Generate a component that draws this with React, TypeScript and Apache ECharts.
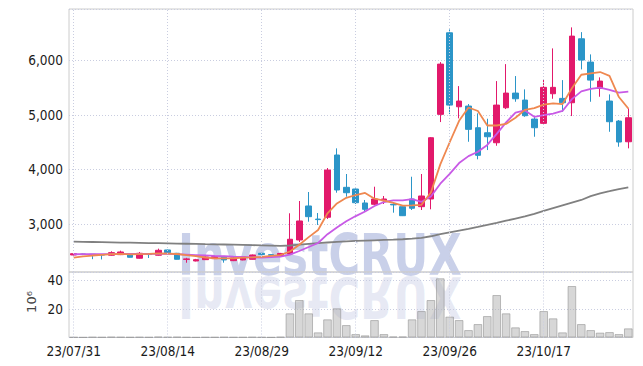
import React, { useEffect, useRef } from "react";
import * as echarts from "echarts";

const dates = [
  "23/07/31", "23/08/01", "23/08/02", "23/08/03", "23/08/04", "23/08/07", "23/08/08", "23/08/09", "23/08/10", "23/08/11",
  "23/08/14", "23/08/15", "23/08/16", "23/08/18", "23/08/21", "23/08/22", "23/08/23", "23/08/24", "23/08/25", "23/08/28",
  "23/08/29", "23/08/30", "23/08/31", "23/09/01", "23/09/04", "23/09/05", "23/09/06", "23/09/07", "23/09/08", "23/09/11",
  "23/09/12", "23/09/13", "23/09/14", "23/09/15", "23/09/18", "23/09/19", "23/09/20", "23/09/21", "23/09/22", "23/09/25",
  "23/09/26", "23/09/27", "23/10/02", "23/10/03", "23/10/05", "23/10/06", "23/10/09", "23/10/10", "23/10/12", "23/10/16",
  "23/10/17", "23/10/18", "23/10/19", "23/10/20", "23/10/23", "23/10/24", "23/10/25", "23/10/26", "23/10/27", "23/10/30",
];

const opens = [
  2432, 2448, 2445, 2440, 2427, 2438, 2432, 2372, 2445, 2427,
  2524, 2463, 2350, 2322, 2346, 2365, 2390, 2328, 2341, 2353,
  2463, 2438, 2420, 2451, 2707, 3330, 3090, 3123, 4264, 3672,
  3641, 3385, 3361, 3427, 3360, 3317, 3458, 3317, 3458, 5009,
  6504, 5148, 5161, 4764, 4672, 4489, 5130, 5399, 5271, 4923,
  4844, 5387, 5302, 5222, 6394, 5967, 5485, 5253, 4886, 4507,
];
const closes = [
  2456, 2445, 2427, 2430, 2475, 2487, 2390, 2463, 2440, 2518,
  2475, 2353, 2360, 2346, 2396, 2401, 2341, 2377, 2396, 2432,
  2440, 2427, 2460, 2720, 3055, 3134, 3080, 3989, 3623, 3573,
  3390, 3269, 3458, 3458, 3350, 3152, 3288, 3513, 4581, 5930,
  5179, 5253, 4734, 4258, 4599, 5179, 5399, 5295, 4984, 4764,
  5504, 5504, 5222, 6443, 6004, 5637, 5619, 4874, 4502, 4947,
];
const lows = [
  2425, 2430, 2355, 2350, 2420, 2430, 2385, 2365, 2377, 2420,
  2470, 2350, 2290, 2315, 2340, 2360, 2291, 2320, 2335, 2350,
  2430, 2420, 2415, 2432, 2670, 3042, 2982, 3092, 3573, 3500,
  3366, 3225, 3348, 3366, 3207, 3146, 3256, 3256, 3269, 4868,
  5015, 4936, 4507, 4185, 4355, 4434, 5106, 5240, 4965, 4599,
  4831, 5295, 5057, 4978, 5833, 5240, 5332, 4690, 4416, 4386,
];
const highs = [
  2462, 2455, 2450, 2445, 2500, 2511, 2440, 2487, 2455, 2548,
  2530, 2470, 2380, 2360, 2405, 2410, 2395, 2390, 2410, 2440,
  2470, 2445, 2470, 3196, 3421, 3586, 3201, 4026, 4386, 3916,
  3650, 3440, 3683, 3513, 3385, 3348, 3866, 3916, 4593, 5967,
  6566, 5527, 5198, 5027, 4929, 5619, 5930, 5711, 5467, 4965,
  5650, 6218, 5637, 6603, 6516, 6108, 5687, 5375, 4905, 5119,
];

const ma5 = [
  2385, 2405, 2422, 2435, 2447, 2453, 2442, 2449, 2451, 2460,
  2457, 2450, 2429, 2410, 2386, 2371, 2369, 2372, 2382, 2389,
  2397, 2414, 2431, 2496, 2620, 2759, 2890, 3196, 3376, 3480,
  3531, 3569, 3463, 3430, 3385, 3337, 3341, 3352, 3577, 4093,
  4498, 4891, 5135, 5071, 4805, 4805, 4834, 4946, 5091, 5124,
  5189, 5210, 5196, 5487, 5735, 5762, 5785, 5715, 5327, 5116,
];
const ma10 = [
  2445, 2447, 2448, 2447, 2449, 2451, 2450, 2452, 2454, 2453,
  2455, 2446, 2439, 2431, 2423, 2414, 2409, 2401, 2396, 2388,
  2384, 2392, 2402, 2439, 2505, 2578, 2652, 2813, 2936, 3050,
  3145, 3229, 3329, 3403, 3432, 3434, 3455, 3407, 3503, 3739,
  3918, 4116, 4244, 4324, 4449, 4651, 4863, 5041, 5081, 4964,
  4997, 5022, 5071, 5289, 5430, 5476, 5498, 5456, 5407, 5426,
];
const maLong = [
  2676, 2673, 2670, 2667, 2664, 2660, 2657, 2654, 2651, 2648,
  2645, 2641, 2638, 2635, 2631, 2628, 2624, 2620, 2616, 2612,
  2608, 2604, 2600, 2606, 2620, 2634, 2648, 2661, 2672, 2683,
  2689, 2695, 2701, 2707, 2713, 2720, 2730, 2745, 2775, 2815,
  2848, 2880, 2910, 2945, 2982, 3020, 3060, 3100, 3140, 3185,
  3240, 3290, 3340, 3390, 3440, 3510, 3562, 3600, 3640, 3672,
];

const volumes = [
  0.3, 0.2, 0.4, 0.3, 0.5, 0.4, 0.3, 0.4, 0.3, 0.6,
  0.4, 0.5, 0.3, 0.2, 0.3, 0.3, 0.4, 0.3, 0.3, 0.4,
  0.3, 0.2, 0.5, 16.9, 26.2, 16.9, 3.6, 12.7, 20.4, 8.7,
  2.4, 1.5, 12.2, 2.4, 0.7, 0.7, 12.7, 18.5, 26.2, 41.4,
  14.6, 12.2, 5.2, 9.4, 15.0, 29.7, 16.9, 7.1, 4.5, 2.4,
  18.5, 13.4, 3.6, 36.0, 9.4, 5.2, 3.4, 3.8, 2.4, 6.4,
];

const labelDates = ["23/07/31", "23/08/14", "23/08/29", "23/09/12", "23/09/26", "23/10/17"];

const FONT = '"DejaVu Sans Condensed", "DejaVu Sans", sans-serif';
const GRID_DOT = "#c9cde0";
const UP = "#e2196b";
const DOWN = "#2b95c8";

export default function App() {
  const ref = useRef<HTMLDivElement>(null);

  useEffect(() => {
    if (!ref.current) return;
    const chart = echarts.init(ref.current, undefined, { renderer: "svg" });

    const ohlc = dates.map((_, i) => [opens[i], closes[i], lows[i], highs[i]]);
    const vLines = {
      symbol: ["none", "none"],
      silent: true,
      animation: false,
      label: { show: false },
      lineStyle: { color: GRID_DOT, type: [1, 2], width: 1 },
      data: labelDates.map((d) => ({ xAxis: d })),
    };
    const axisLabelStyle = { color: "#1a1a1a", fontSize: 13.5, fontFamily: FONT, fontWeight: 500 };

    const option: any = {
      animation: false,
      backgroundColor: "#ffffff",
      grid: [
        { left: 69, right: 10, top: 9, height: 263, show: true, borderColor: "#cccccc", borderWidth: 1 },
        { left: 69, right: 10, top: 272, height: 65.5, show: true, borderColor: "#cccccc", borderWidth: 1 },
      ],
      xAxis: [
        {
          type: "category", gridIndex: 0, data: dates, boundaryGap: true,
          axisLine: { show: false }, axisTick: { show: false }, axisLabel: { show: false }, splitLine: { show: false },
        },
        {
          type: "category", gridIndex: 1, data: dates, boundaryGap: true,
          axisLine: { show: false }, axisTick: { show: false }, splitLine: { show: false },
          axisLabel: { ...axisLabelStyle, interval: 9, margin: 6 },
        },
      ],
      yAxis: [
        {
          type: "value", gridIndex: 0, min: 2120, max: 6940,
          axisLine: { show: false }, axisTick: { show: false },
          axisLabel: { ...axisLabelStyle, margin: 6, showMinLabel: false, showMaxLabel: false },
          splitLine: { show: true, lineStyle: { color: GRID_DOT, type: [1, 2], width: 1 } },
        },
        {
          type: "value", gridIndex: 1, min: 0, max: 45.8, interval: 20,
          axisLine: { show: false }, axisTick: { show: false },
          axisLabel: { ...axisLabelStyle, margin: 6, showMinLabel: false, showMaxLabel: false },
          splitLine: { show: true, lineStyle: { color: GRID_DOT, type: [1, 2], width: 1 } },
        },
      ],
      graphic: [
        {
          type: "text", x: 178, y: 255.5, scaleX: 0.757, z: -10, silent: true,
          style: {
            text: "InvestCRUX", font: 'bold 57px "DejaVu Sans"', fill: "rgba(165,176,218,0.6)",
            align: "left", verticalAlign: "middle", textAlign: "left", textVerticalAlign: "middle",
          },
        },
        {
          type: "text", x: 178, y: 297, scaleX: 0.757, scaleY: -1, z: -10, silent: true,
          style: {
            text: "InvestCRUX", font: 'bold 57px "DejaVu Sans"', fill: "rgba(170,180,218,0.28)",
            align: "left", verticalAlign: "middle", textAlign: "left", textVerticalAlign: "middle",
          },
        },
        {
          type: "text", x: 31, y: 302, rotation: Math.PI / 2, silent: true,
          style: {
            text: "10⁶", font: '13px "DejaVu Sans"', fill: "#444",
            align: "center", verticalAlign: "middle", textAlign: "center", textVerticalAlign: "middle",
          },
        },
      ],
      series: [
        {
          type: "candlestick", xAxisIndex: 0, yAxisIndex: 0, data: ohlc, barWidth: 6,
          itemStyle: { color: UP, color0: DOWN, borderColor: UP, borderColor0: DOWN, borderWidth: 1 },
          markLine: vLines,
        },
        {
          type: "line", xAxisIndex: 0, yAxisIndex: 0, data: maLong, symbol: "none",
          lineStyle: { color: "#808080", width: 1.8 },
        },
        {
          type: "line", xAxisIndex: 0, yAxisIndex: 0, data: ma10, symbol: "none",
          lineStyle: { color: "#c85ae6", width: 1.8 },
        },
        {
          type: "line", xAxisIndex: 0, yAxisIndex: 0, data: ma5, symbol: "none",
          lineStyle: { color: "#ef8850", width: 1.8 },
        },
        {
          type: "bar", xAxisIndex: 1, yAxisIndex: 1, data: volumes, barCategoryGap: "8%",
          itemStyle: { color: "rgba(175,175,175,0.5)", borderColor: "rgba(140,140,140,0.55)", borderWidth: 1 },
          markLine: vLines,
        },
      ],
    };

    chart.setOption(option);
    return () => chart.dispose();
  }, []);

  return (
    <div
      ref={ref}
      style={{ position: "fixed", left: 0, top: 0, width: 643, height: 366, background: "#fff" }}
    />
  );
}
